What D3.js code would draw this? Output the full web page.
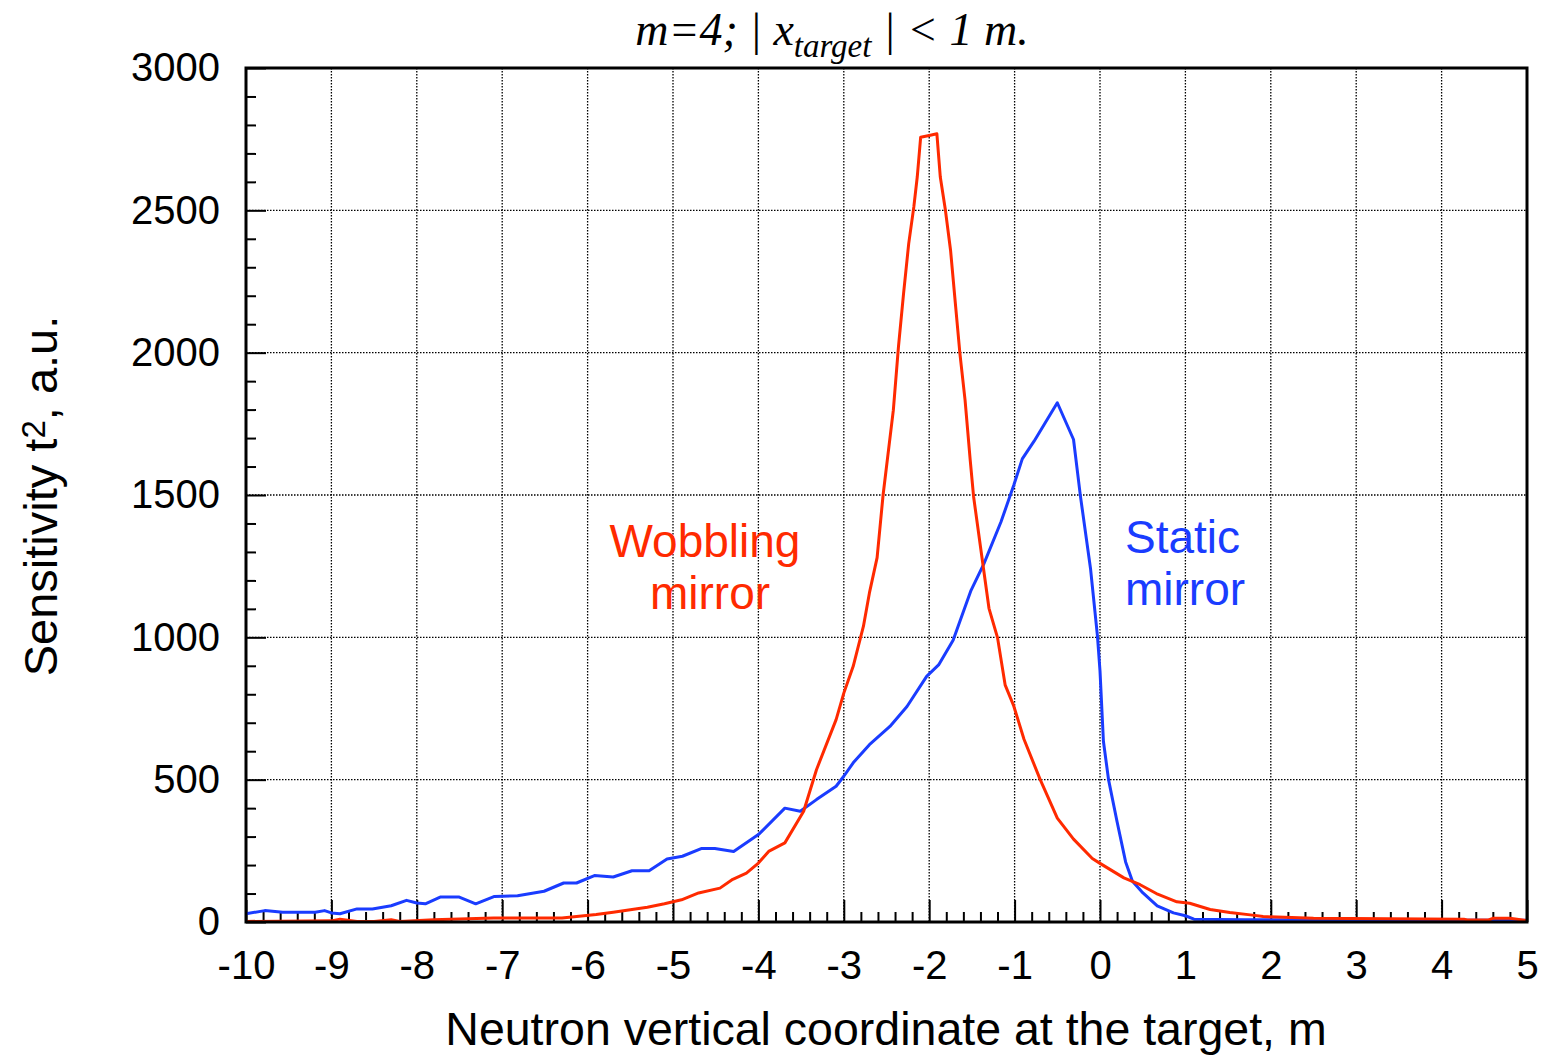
<!DOCTYPE html>
<html>
<head>
<meta charset="utf-8">
<script src="https://cdn.jsdelivr.net/npm/d3@7"></script>
<style>
  body { margin: 0; background: #fff; }
  svg { display: block; }
  .tick text { font-family: "Liberation Sans", Arial, sans-serif; font-size: 40px; fill: #000; }
</style>
</head>
<body>
<svg id="chart" width="1543" height="1056"></svg>
<script>
// Static mirror (blue)
const staticX = [-10, -9.78, -9.57, -9.19, -9.08, -9.0, -8.9, -8.7, -8.52, -8.3, -8.12, -8.0, -7.9, -7.72, -7.51, -7.31, -7.09, -6.82, -6.51, -6.28, -6.13, -5.92, -5.70, -5.48, -5.28, -5.07, -4.89, -4.67, -4.51, -4.29, -4.0, -3.69, -3.51, -3.32, -3.09, -3.0, -2.89, -2.70, -2.46, -2.26, -2.03, -1.89, -1.72, -1.51, -1.36, -1.16, -1.01, -0.91, -0.77, -0.50, -0.31, -0.23, -0.11, -0.03, 0.0, 0.04, 0.10, 0.20, 0.30, 0.38, 0.49, 0.67, 0.86, 1.0, 1.1, 1.7, 2.5, 5.0];
const staticY = [29, 40, 34, 34, 40, 32, 29, 46, 46, 57, 76, 67, 64, 88, 88, 64, 90, 92, 108, 137, 137, 163, 158, 180, 180, 221, 231, 258, 258, 248, 307, 400, 389, 430, 477, 512, 559, 623, 687, 757, 863, 903, 990, 1165, 1258, 1405, 1534, 1627, 1690, 1824, 1695, 1498, 1239, 1005, 882, 635, 500, 352, 211, 143, 106, 57, 32, 22, 10, 8, 7, 6];

// Wobbling mirror (red)
const wobX = [-10, -9.0, -8.9, -8.7, -8.5, -8.3, -8.2, -7.8, -7.1, -6.3, -6.1, -5.9, -5.7, -5.5, -5.3, -5.1, -4.9, -4.7, -4.45, -4.3, -4.14, -4.0, -3.88, -3.69, -3.47, -3.32, -3.09, -3.0, -2.89, -2.77, -2.70, -2.61, -2.54, -2.42, -2.36, -2.30, -2.24, -2.18, -2.14, -2.10, -2.0, -1.91, -1.87, -1.81, -1.75, -1.69, -1.64, -1.58, -1.52, -1.48, -1.40, -1.30, -1.20, -1.11, -1.01, -0.89, -0.70, -0.50, -0.31, -0.09, 0.0, 0.28, 0.47, 0.66, 0.90, 1.05, 1.29, 1.52, 1.76, 1.91, 2.5, 4.26, 4.3, 4.55, 4.6, 4.8, 5.0];
const wobY = [2, 4, 10, 2, 2, 8, 2, 8, 14, 14, 20, 26, 34, 43, 52, 64, 78, 102, 119, 150, 172, 207, 248, 278, 389, 535, 711, 804, 898, 1039, 1156, 1280, 1500, 1798, 2020, 2208, 2383, 2512, 2617, 2757, 2763, 2769, 2617, 2500, 2360, 2161, 1996, 1833, 1623, 1494, 1319, 1102, 999, 832, 759, 642, 500, 365, 291, 223, 206, 155, 131, 100, 71, 66, 44, 33, 25, 19, 13, 10, 7, 7, 13, 13, 5];

const xTicks = [-10, -9, -8, -7, -6, -5, -4, -3, -2, -1, 0, 1, 2, 3, 4, 5];
const yTicks = [0, 500, 1000, 1500, 2000, 2500, 3000];

const svg = d3.select("#chart");
const plotLeft = 246, plotRight = 1527, plotTop = 68, plotBottom = 922;

const x = d3.scaleLinear().domain([-10, 5]).range([plotLeft, plotRight]);
const y = d3.scaleLinear().domain([0, 3000]).range([plotBottom, plotTop]);

// dotted grid
const grid = svg.append("g").attr("stroke", "#000").attr("stroke-width", 1.3).attr("stroke-dasharray", "1.5,1.5");
grid.selectAll("line.v").data(xTicks.slice(1, -1)).enter().append("line")
  .attr("x1", d => x(d)).attr("x2", d => x(d)).attr("y1", plotTop).attr("y2", plotBottom);
grid.selectAll("line.h").data(yTicks.slice(1, -1)).enter().append("line")
  .attr("x1", plotLeft).attr("x2", plotRight).attr("y1", d => y(d)).attr("y2", d => y(d));

// minor ticks (every 0.2 m and every 100)
const xMinor = d3.range(-10, 5.001, 0.2).filter(v => Math.abs(v - Math.round(v)) > 0.01);
const yMinor = d3.range(0, 3001, 100).filter(v => v % 500 !== 0);

svg.append("g").attr("transform", `translate(0,${plotBottom})`)
  .call(d3.axisBottom(x).tickValues(xMinor).tickSize(-10).tickFormat(""))
  .call(g => g.select(".domain").remove())
  .selectAll("line").attr("stroke", "#000").attr("stroke-width", 2);
svg.append("g").attr("transform", `translate(${plotLeft},0)`)
  .call(d3.axisLeft(y).tickValues(yMinor).tickSize(-10).tickFormat(""))
  .call(g => g.select(".domain").remove())
  .selectAll("line").attr("stroke", "#000").attr("stroke-width", 2);

// major ticks + labels (plain hyphen for negatives, as in the original)
svg.append("g").attr("transform", `translate(0,${plotBottom})`)
  .call(d3.axisBottom(x).tickValues(xTicks).tickSize(-22).tickPadding(43).tickFormat(d => String(d)))
  .call(g => g.select(".domain").remove())
  .call(g => g.selectAll("line").attr("stroke", "#000").attr("stroke-width", 2))
  .call(g => g.selectAll("text").attr("dy", "0.35em"));
svg.append("g").attr("transform", `translate(${plotLeft},0)`)
  .call(d3.axisLeft(y).tickValues(yTicks).tickSize(-20).tickPadding(26).tickFormat(d => String(d)))
  .call(g => g.select(".domain").remove())
  .call(g => g.selectAll("line").attr("stroke", "#000").attr("stroke-width", 2));

// curves
const line = d3.line().x(d => x(d[0])).y(d => y(d[1]));
svg.append("path").datum(d3.zip(staticX, staticY))
  .attr("fill", "none").attr("stroke", "#1a3cff").attr("stroke-width", 3).attr("stroke-linejoin", "round")
  .attr("d", line);
svg.append("path").datum(d3.zip(wobX, wobY))
  .attr("fill", "none").attr("stroke", "#ff2a00").attr("stroke-width", 3).attr("stroke-linejoin", "round")
  .attr("d", line);

// frame
svg.append("rect").attr("x", plotLeft).attr("y", plotTop).attr("width", plotRight - plotLeft).attr("height", plotBottom - plotTop)
  .attr("fill", "none").attr("stroke", "#000").attr("stroke-width", 3);

// curve labels
const sans = "'Liberation Sans', Arial, sans-serif";
const wob = svg.append("text").attr("x", 705).attr("y", 557).attr("text-anchor", "middle")
  .attr("font-family", sans).attr("font-size", 46).attr("fill", "#ff2a00");
wob.append("tspan").attr("x", 705).text("Wobbling");
wob.append("tspan").attr("x", 710).attr("dy", 52).text("mirror");
const stat = svg.append("text").attr("x", 1125).attr("y", 553)
  .attr("font-family", sans).attr("font-size", 46).attr("fill", "#1a3cff");
stat.append("tspan").attr("x", 1125).text("Static");
stat.append("tspan").attr("x", 1125).attr("dy", 52).text("mirror");

// title
const title = svg.append("text").attr("x", 832).attr("y", 45).attr("text-anchor", "middle")
  .attr("font-family", "'Liberation Serif', 'Times New Roman', serif").attr("font-style", "italic")
  .attr("font-size", 46).attr("fill", "#000");
title.append("tspan").text("m=4; | x");
title.append("tspan").attr("font-size", 33).attr("dy", 12).text("target");
title.append("tspan").attr("dy", -12).text(" | < 1 m.");

// axis titles
svg.append("text").attr("x", 886).attr("y", 1045).attr("text-anchor", "middle")
  .attr("font-family", sans).attr("font-size", 46.5).attr("fill", "#000")
  .text("Neutron vertical coordinate at the target, m");
const yl = svg.append("text").attr("transform", "translate(57,496) rotate(-90)").attr("text-anchor", "middle")
  .attr("font-family", sans).attr("font-size", 47).attr("fill", "#000");
yl.append("tspan").text("Sensitivity t");
yl.append("tspan").attr("font-size", 33).attr("dy", -12).text("2");
yl.append("tspan").attr("dy", 12).text(", a.u.");
</script>
</body>
</html>
